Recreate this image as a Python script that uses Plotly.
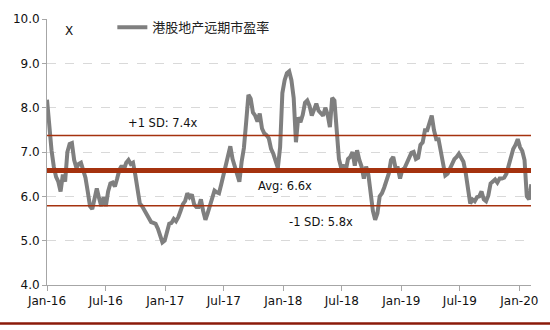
import pandas as pd
import plotly.graph_objects as go

# Weekly forward P/E of Hong Kong-listed property stocks (x), Jan 2016 onwards
start_date = "2016-01-01"
pe_values = [
    8.18, 7.56, 7.04, 6.67, 6.44, 6.33, 6.11, 6.49, 6.33, 7.00,
    7.18, 7.20, 6.82, 6.64, 6.73, 6.76, 6.56, 6.42, 6.11, 5.78,
    5.71, 5.93, 6.18, 5.96, 5.78, 5.98, 5.78, 6.11, 6.29, 6.31,
    6.22, 6.40, 6.60, 6.69, 6.60, 6.76, 6.82, 6.73, 6.76, 6.49,
    6.09, 5.84, 5.78, 5.69, 5.60, 5.47, 5.42, 5.40, 5.38, 5.27,
    5.09, 4.96, 5.00, 5.16, 5.38, 5.40, 5.49, 5.44, 5.53, 5.67,
    5.82, 5.89, 6.07, 5.98, 6.04, 5.82, 5.76, 5.76, 5.93, 5.67,
    5.47, 5.62, 5.78, 5.93, 6.13, 6.09, 6.07, 6.27, 6.51, 6.67,
    6.96, 7.13, 6.84, 6.67, 6.51, 6.33, 6.78, 7.09, 7.67, 8.29,
    8.20, 7.89, 7.82, 7.69, 7.87, 7.53, 7.42, 7.38, 7.31, 7.07,
    6.96, 6.82, 6.64, 7.11, 8.33, 8.62, 8.78, 8.82, 8.62, 8.22,
    7.22, 7.78, 7.67, 7.84, 8.11, 8.16, 8.04, 7.82, 7.93, 8.09,
    7.93, 7.87, 7.82, 8.00, 7.84, 7.56, 8.22, 8.16, 7.33, 6.84,
    6.64, 6.71, 6.58, 6.84, 6.89, 7.00, 6.69, 7.04, 6.82, 6.67,
    6.40, 6.67, 6.49, 6.00, 5.67, 5.47, 5.62, 6.00, 6.07, 6.20,
    6.36, 6.51, 6.82, 6.89, 6.64, 6.64, 6.40, 6.60, 6.64, 6.76,
    6.87, 6.98, 7.00, 6.84, 6.87, 7.16, 7.22, 7.49, 7.49, 7.64,
    7.82, 7.49, 7.29, 7.29, 7.02, 6.78, 6.47, 6.51, 6.62, 6.73,
    6.84, 6.89, 6.96, 6.87, 6.78, 6.53, 6.22, 5.84, 5.93, 5.89,
    5.98, 6.00, 6.11, 5.93, 5.89, 6.02, 6.29, 6.33, 6.38, 6.31,
    6.40, 6.40, 6.42, 6.51, 6.71, 6.96, 7.07, 7.16, 7.29, 7.11,
    7.02, 6.82, 6.00, 5.93, 6.27,
]
dates = pd.date_range(start_date, periods=len(pe_values), freq="7D")

series_name = "港股地产远期市盈率"
avg_pe = 6.58
sd_pe = 0.79
band_labels = {
    "plus": f"+1 SD: {avg_pe + sd_pe:.1f}x",
    "avg": f"Avg: {avg_pe:.1f}x",
    "minus": f"-1 SD: {avg_pe - sd_pe:.1f}x",
}
y_ticks = [4.0, 5.0, 6.0, 7.0, 8.0, 9.0, 10.0]
x_range = ["2016-01-01", "2020-02-06"]

RED = "#A5320F"
GREY = "#7F7F7F"
FONT = "DejaVu Sans"

fig = go.Figure()
fig.add_trace(go.Scatter(
    x=dates, y=pe_values, mode="lines", name=series_name,
    line=dict(color=GREY, width=4),
))

# Mean and +/- 1 standard deviation bands
for level, width in [(avg_pe + sd_pe, 1.5), (avg_pe, 5), (avg_pe - sd_pe, 1.5)]:
    fig.add_shape(type="line", xref="x domain", x0=0, x1=1, yref="y",
                  y0=level, y1=level, line=dict(color=RED, width=width))

label_font = dict(family=FONT, size=11.5, color="#111")
fig.add_annotation(x="2016-12-25", y=avg_pe + sd_pe + 0.28, text=band_labels["plus"],
                   showarrow=False, font=label_font)
fig.add_annotation(x="2018-01-07", y=avg_pe - 0.35, text=band_labels["avg"],
                   showarrow=False, font=label_font)
fig.add_annotation(x="2018-04-26", y=avg_pe - sd_pe - 0.36, text=band_labels["minus"],
                   showarrow=False, font=label_font)
fig.add_annotation(xref="paper", yref="paper", x=0.045, y=0.955, text="X",
                   xanchor="center", yanchor="middle",
                   showarrow=False, font=dict(family=FONT, size=12, color="#111"))

# Footer rule
fig.add_shape(type="line", xref="paper", yref="paper", x0=-0.1, x1=1.04,
              y0=-0.145, y1=-0.145, line=dict(color="#8B1A0A", width=2.5))

fig.update_layout(
    width=550, height=330,
    margin=dict(l=47, r=15, t=15, b=45),
    paper_bgcolor="white", plot_bgcolor="white",
    font=dict(family=FONT, size=12, color="#111"),
    showlegend=True,
    legend=dict(x=0.135, y=1.025, xanchor="left", yanchor="top",
                bgcolor="rgba(0,0,0,0)", itemwidth=30,
                font=dict(family="Noto Sans CJK SC", size=13, color="#222")),
)
fig.update_xaxes(
    range=x_range, dtick="M6", tick0="2016-01-01", tickformat="%b-%y",
    showgrid=False, showline=True, linecolor="#A6A6A6", linewidth=1,
    ticks="outside", ticklen=5, tickcolor="#A6A6A6",
    tickfont=dict(family=FONT, size=12),
)
fig.update_yaxes(
    range=[4, 10], tickvals=y_ticks, tickformat=".1f",
    showgrid=True, gridcolor="#D9D9D9", griddash="dash", gridwidth=1,
    showline=True, linecolor="#A6A6A6", linewidth=1,
    ticks="outside", ticklen=4, tickcolor="#A6A6A6",
    tickfont=dict(family=FONT, size=12), zeroline=False,
)

fig.write_html("out.html")
